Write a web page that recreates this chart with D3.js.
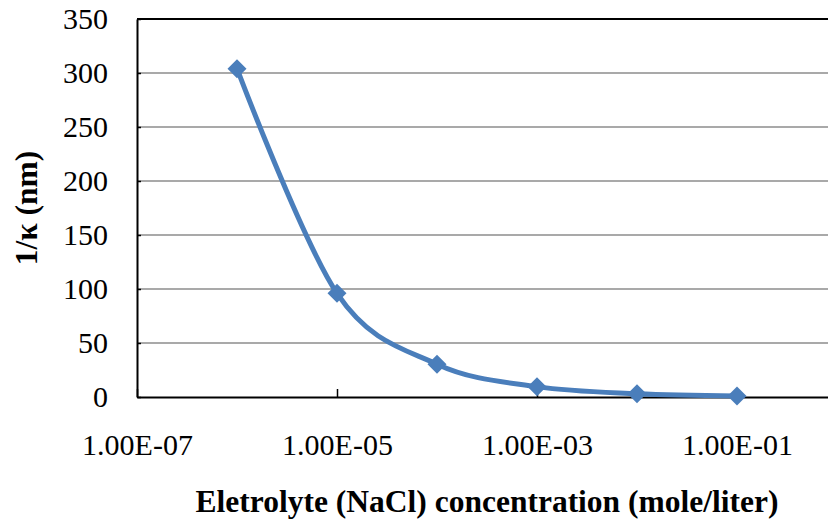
<!DOCTYPE html>
<html>
<head>
<meta charset="utf-8">
<script src="https://cdn.jsdelivr.net/npm/d3@7"></script>
<style>
  body { margin: 0; background: #fff; }
  svg text { font-family: "Liberation Serif", "Times New Roman", Tinos, "DejaVu Serif", "Noto Serif", serif; fill: #000; }
</style>
</head>
<body>
<script>
// data: Debye length vs NaCl concentration
let concentration = [1e-6, 1e-5, 1e-4, 1e-3, 1e-2, 1e-1];
let debyeLength = [304, 96, 30.4, 9.6, 3.04, 0.96];
let xTickValues = [1e-7, 1e-5, 1e-3, 1e-1];
let xTickLabels = ["1.00E-07", "1.00E-05", "1.00E-03", "1.00E-01"];
let yTickValues = [0, 50, 100, 150, 200, 250, 300, 350];

let width = 828, height = 520;
let plot = {left: 137, right: 837, top: 19, bottom: 397};

let xScale = d3.scaleLog().domain([1e-7, 1]).range([plot.left, plot.right]);
let yScale = d3.scaleLinear().domain([0, 350]).range([plot.bottom, plot.top]);

let svg = d3.select("body").append("svg")
	.attr("width", width)
	.attr("height", height);

// gridlines
svg.append("g")
	.selectAll("line")
	.data(yTickValues.filter(function(d) { return d > 0 && d < 350; }))
	.enter().append("line")
		.attr("x1", plot.left)
		.attr("x2", plot.right)
		.attr("y1", function(d) { return yScale(d); })
		.attr("y2", function(d) { return yScale(d); })
		.attr("stroke", "#8c8c8c")
		.attr("stroke-width", 1.6);

// top border
svg.append("line")
	.attr("x1", plot.left).attr("x2", plot.right)
	.attr("y1", yScale(350)).attr("y2", yScale(350))
	.attr("stroke", "#000").attr("stroke-width", 2);

// x axis
let xAxis = svg.append("g")
	.attr("transform", "translate(0," + plot.bottom + ")")
	.call(d3.axisBottom(xScale)
		.tickValues(xTickValues)
		.tickFormat(function(d, i) { return xTickLabels[i]; })
		.tickSizeInner(-8)
		.tickSizeOuter(0)
		.tickPadding(37));
xAxis.attr("font-family", null).attr("font-size", null);
xAxis.select(".domain").attr("stroke", "#000").attr("stroke-width", 2);
xAxis.selectAll(".tick line").attr("stroke", "#000").attr("stroke-width", 1.5);
xAxis.selectAll("text").style("font-size", "30px");

// y axis
let yAxis = svg.append("g")
	.attr("transform", "translate(" + plot.left + ",0)")
	.call(d3.axisLeft(yScale)
		.tickValues(yTickValues)
		.tickSizeInner(-4)
		.tickSizeOuter(0)
		.tickPadding(29));
yAxis.attr("font-family", null).attr("font-size", null);
yAxis.select(".domain").attr("stroke", "#000").attr("stroke-width", 2);
yAxis.selectAll(".tick line").attr("stroke", "#000").attr("stroke-width", 1.5);
yAxis.selectAll("text").style("font-size", "30px");

// smoothed line
let line = d3.line()
	.curve(d3.curveCardinal.tension(0))
	.x(function(d, i) { return xScale(concentration[i]); })
	.y(function(d) { return yScale(d); });

svg.append("path")
	.datum(debyeLength)
	.attr("d", line)
	.attr("fill", "none")
	.attr("stroke", "#4a7ebb")
	.attr("stroke-width", 5)
	.attr("stroke-linejoin", "round");

// diamond markers
let r = 9.5;
svg.append("g")
	.selectAll("path")
	.data(debyeLength)
	.enter().append("path")
		.attr("transform", function(d, i) {
			return "translate(" + xScale(concentration[i]) + "," + yScale(d) + ")";
		})
		.attr("d", "M0," + (-r) + "L" + r + ",0L0," + r + "L" + (-r) + ",0Z")
		.attr("fill", "#4a7ebb");

// axis titles
svg.append("text")
	.attr("x", (plot.left + plot.right) / 2)
	.attr("y", 512)
	.attr("text-anchor", "middle")
	.style("font-size", "31.5px")
	.style("font-weight", "bold")
	.text("Eletrolyte (NaCl) concentration (mole/liter)");

svg.append("text")
	.attr("transform", "translate(37," + (plot.top + plot.bottom) / 2 + ") rotate(-90)")
	.attr("text-anchor", "middle")
	.style("font-size", "31.5px")
	.style("font-weight", "bold")
	.text("1/κ (nm)");
</script>
</body>
</html>
